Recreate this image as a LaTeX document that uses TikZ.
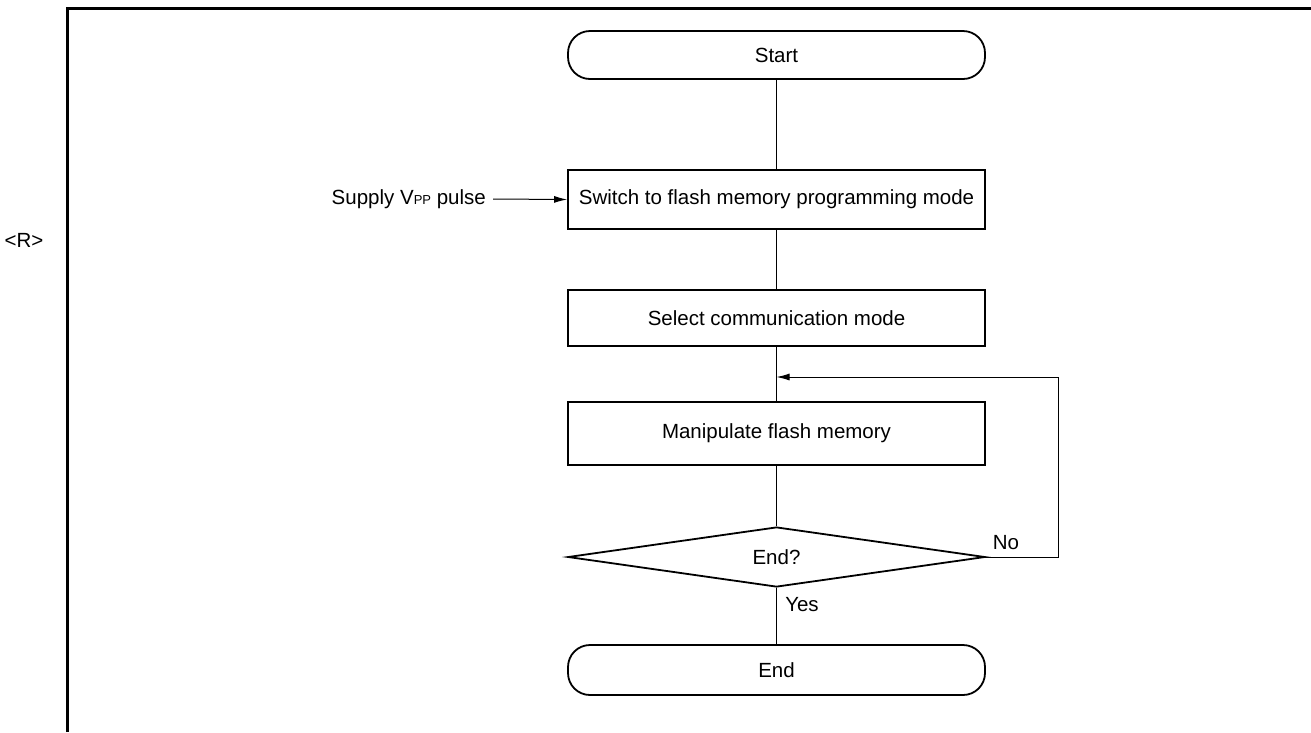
\documentclass[tikz,border=0pt]{standalone}
\usepackage{fontspec}
\setmainfont{Liberation Sans}
\usetikzlibrary{shapes.geometric,arrows.meta}
\begin{document}
\begin{tikzpicture}[x=1pt,y=-1pt,
  every node/.style={font=\fontsize{20.5}{24}\selectfont},
  termbox/.style={draw,line width=1.8pt,rounded corners=22pt,minimum width=417pt,minimum height=48pt,inner sep=0pt},
  procbox/.style={draw,line width=1.8pt,minimum width=417pt,inner sep=0pt},
  decbox/.style={draw,line width=1.8pt,diamond,aspect=6.95,minimum width=417pt,minimum height=60pt,inner sep=0pt},
  conn/.style={line width=1pt},
  arr/.style={line width=1pt,-{Latex[length=13pt,width=7pt]}},
  lbl/.style={inner sep=0pt}
]
\useasboundingbox (0,0) rectangle (1311,732);
% frame
\draw[line width=3pt] (67,732) -- (67,8) -- (1311,8);
\node[lbl] (rmark) at (24,240) {<R>};

\node[termbox] (start) at (776.5,55) {Start};
\node[procbox,minimum height=59pt] (switch) at (776.5,199.5) {Switch to flash memory programming mode};
\node[procbox,minimum height=56pt] (select) at (776.5,318) {Select communication mode};
\node[procbox,minimum height=63pt] (manip) at (776.5,433.5) {Manipulate flash memory};
\node[decbox] (dec) at (776.5,557) {End?};
\node[termbox,minimum height=50pt] (endn) at (776.5,670) {End};

\node[lbl,anchor=east] (supply) at (486,199) {Supply V{\fontsize{13}{13}\selectfont PP} pulse};
\node[lbl] (no) at (1006,543) {No};
\node[lbl] (yes) at (802,605) {Yes};

\coordinate (join) at (776.5,377);
\coordinate (rt) at (1058,377);
\coordinate (rb) at (1058,557);

\draw[conn] (start.south) -- (switch.north);
\draw[conn] (switch.south) -- (select.north);
\draw[conn] (select.south) -- (manip.north);
\draw[conn] (manip.south) -- (dec.north);
\draw[conn] (dec.south) -- (endn.north);
\draw[arr] (dec.east) -- (rb) -- (rt) -- (join);
\draw[arr] ([xshift=7pt]supply.east) -- (switch.west);
\end{tikzpicture}
\end{document}
